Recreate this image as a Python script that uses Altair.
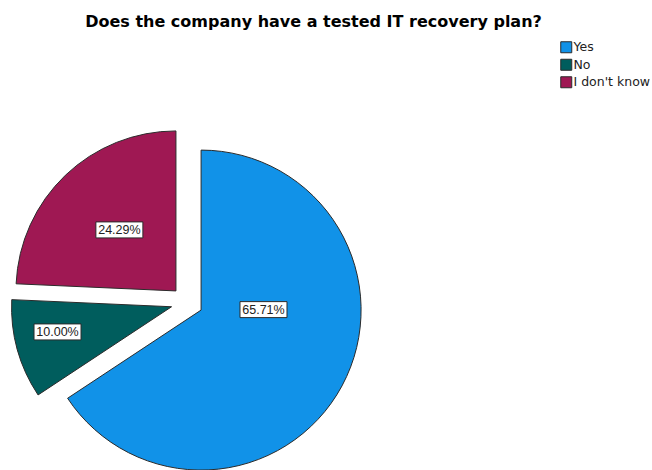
import altair as alt
import pandas as pd

# ---- data ----
CATEGORIES = ["Yes", "No", "I don't know"]
PERCENTS = [65.71, 10.00, 24.29]
LABELS = ["65.71%", "10.00%", "24.29%"]
TITLE = "Does the company have a tested IT recovery plan?"

# ---- style ----
COLORS = ["#1192e8", "#005d5d", "#9f1853"]
CX, CY = 187.0, 302.5      # pie centre (px)
R = 160                    # pie radius (px)
EXPLODE = 16               # explode distance (px)
LABEL_FRAC = [0.39, 0.73, 0.52]   # label distance from slice vertex, fraction of R
LABEL_TURN = [-28.7, 3.0, 0.9]    # label angle shift from slice mid-angle (deg)
BOX_W, BOX_H = 47, 16
FONT = "Liberation Sans"

df = pd.DataFrame({
    "cat": CATEGORIES,
    "pct": PERCENTS,
    "label": LABELS,
    "order": list(range(len(CATEGORIES))),
    "lfrac": LABEL_FRAC,
    "lturn": LABEL_TURN,
})

base = alt.Chart(df).transform_window(
    cum="sum(pct)", sort=[alt.SortField("order")], frame=[None, 0]
).transform_calculate(
    t0="(datum.cum - datum.pct) / 100 * 2 * PI",
    t1="datum.cum / 100 * 2 * PI",
).transform_calculate(
    mid="(datum.t0 + datum.t1) / 2"
).transform_calculate(
    vx=f"{CX} + {EXPLODE} * sin(datum.mid)",
    vy=f"{CY} - {EXPLODE} * cos(datum.mid)",
    la="datum.mid + datum.lturn * PI / 180",
).transform_calculate(
    lx=f"datum.vx + datum.lfrac * {R} * sin(datum.la)",
    ly=f"datum.vy - datum.lfrac * {R} * cos(datum.la)",
).transform_calculate(
    bx0=f"datum.lx - {BOX_W / 2}",
    bx1=f"datum.lx + {BOX_W / 2}",
    by0=f"datum.ly - {BOX_H / 2}",
    by1=f"datum.ly + {BOX_H / 2}",
)

arcs = base.mark_arc(outerRadius=R, stroke="#2b2b2b", strokeWidth=1).encode(
    theta=alt.Theta("t0:Q", scale=None, stack=None),
    theta2="t1:Q",
    x=alt.X("vx:Q", scale=None, axis=None),
    y=alt.Y("vy:Q", scale=None, axis=None),
    color=alt.Color(
        "cat:N",
        scale=alt.Scale(domain=CATEGORIES, range=COLORS),
        legend=alt.Legend(
            title=None,
            orient="none",
            legendX=560,
            legendY=41,
            symbolType="square",
            symbolSize=121,
            symbolStrokeColor="#2b2b2b",
            symbolStrokeWidth=1,
            symbolOpacity=1,
            labelFont="DejaVu Sans",
            labelFontSize=12.5,
            labelColor="#222222",
            labelOffset=1,
            rowPadding=1.5,
            padding=0,
        ),
    ),
)

boxes = base.mark_rect(fill="white", stroke="#2b2b2b", strokeWidth=1).encode(
    x=alt.X("bx0:Q", scale=None, axis=None),
    x2="bx1:Q",
    y=alt.Y("by0:Q", scale=None, axis=None),
    y2="by1:Q",
)

texts = base.mark_text(
    font=FONT, fontSize=12.5, color="#222222", align="center", baseline="middle", dy=0.5
).encode(
    x=alt.X("lx:Q", scale=None, axis=None),
    y=alt.Y("ly:Q", scale=None, axis=None),
    text="label:N",
)

title = alt.Chart(pd.DataFrame({"t": [TITLE]})).mark_text(
    font="DejaVu Sans", fontSize=16, fontWeight="bold", color="#000000",
    align="center", baseline="alphabetic"
).encode(
    x=alt.value(313.5),
    y=alt.value(27),
    text="t:N",
)

chart = alt.layer(arcs, boxes, texts, title).properties(
    width=652,
    height=470,
    autosize=alt.AutoSizeParams(type="none"),
    padding=0,
).configure_view(stroke=None)

chart.save("out.html", embed_options={"renderer": "svg", "actions": False})
